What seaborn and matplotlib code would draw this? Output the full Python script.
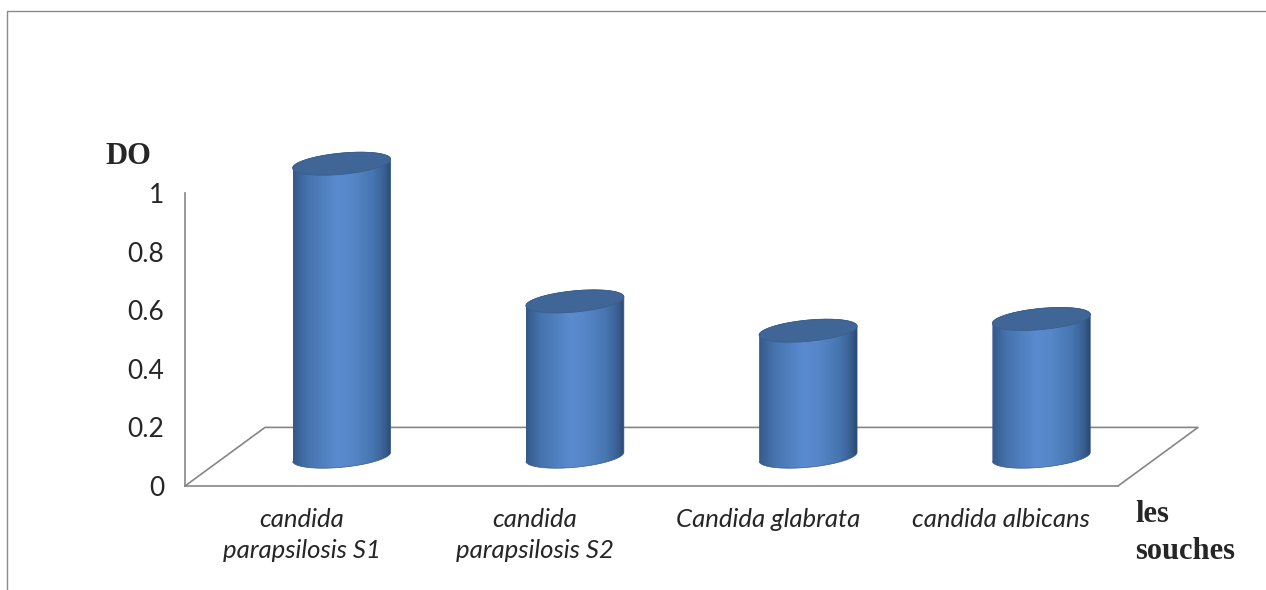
import numpy as np
import pandas as pd
import matplotlib
matplotlib.use("Agg")
import matplotlib.pyplot as plt
import seaborn as sns
from matplotlib.path import Path
from matplotlib.patches import PathPatch
from matplotlib.colors import LinearSegmentedColormap
from matplotlib.lines import Line2D

# === DATA ===
souches = ["candida\nparapsilosis S1", "candida\nparapsilosis S2",
           "Candida glabrata", "candida albicans"]
do_values = [1.0, 0.53, 0.43, 0.47]
y_ticks = [0, 0.2, 0.4, 0.6, 0.8, 1]
y_tick_labels = ["0", "0.2", "0.4", "0.6", "0.8", "1"]

df = pd.DataFrame({"souche": souches, "DO": do_values})

# === STYLE ===
sns.set_style("white")
plt.rcParams["font.family"] = ["Lato", "DejaVu Sans"]
grey = "#868686"

W, H = 1266, 590
fig = plt.figure(figsize=(W / 100, H / 100), dpi=100)

# front plane of the pseudo-3D box (pixel layout from the reference)
left, right, y_zero, y_one = 185, 1118, 486, 193
px_unit = y_zero - y_one
ax = fig.add_axes([left / W, (H - y_zero) / H, (right - left) / W, px_unit / H])
n = len(souches)
ax.set_xlim(-0.5, n - 0.5)
ax.set_ylim(0, 1)

for s in ["top", "right"]:
    ax.spines[s].set_visible(False)
for s in ["left", "bottom"]:
    ax.spines[s].set_color(grey)
    ax.spines[s].set_linewidth(1.2)

ax.set_yticks(y_ticks)
ax.set_yticklabels(y_tick_labels, fontsize=19)
ax.tick_params(axis="y", direction="out", length=5, width=1.2, color=grey, pad=10)
ax.set_xticks(range(n))
ax.set_xticklabels(souches, fontsize=18.5, fontstyle="italic", linespacing=1.4)
ax.tick_params(axis="x", which="major", length=0, pad=16)
ax.set_xticks(np.arange(-0.5, n), minor=True)
ax.tick_params(axis="x", which="minor", direction="out", length=6, width=1.2, color=grey)

# floor of the 3D box: depth offset in data units
depth_x = 80 / ((right - left) / n)
depth_y = 0.2
floor_x = [-0.5, -0.5 + depth_x, n - 0.5 + depth_x, n - 0.5]
floor_y = [0, depth_y, depth_y, 0]
ax.plot(floor_x, floor_y, color=grey, lw=1.2, clip_on=False, zorder=1)

# === BARS (drawn at mid depth on an overlaid axes) ===
dx_px, dy_px = 40, 29.3
lo, hi = -0.15, 1.25
ax2 = fig.add_axes([(left + dx_px) / W,
                    (H - (y_zero - dy_px) - (-lo) * px_unit) / H,
                    (right - left) / W,
                    (hi - lo) * px_unit / H])
ax2.patch.set_alpha(0)

sns.barplot(data=df, x="souche", y="DO", ax=ax2, width=0.42, color="#4f81bd")

cyl_cmap = LinearSegmentedColormap.from_list(
    "cyl", [(0.0, "#34598a"), (0.15, "#4673ae"), (0.45, "#5a8bd0"),
            (0.6, "#5787c9"), (0.82, "#4675b0"), (0.93, "#3a6194"), (1.0, "#2b4a72")])
grad = np.linspace(0, 1, 256)[None, :]

b = 10.6 / px_unit                       # half height of ellipses
shear = (9 / px_unit) / (99 / ((right - left) / n))  # tilt of ellipses
t_low = np.linspace(np.pi, 2 * np.pi, 60)
t_up = np.linspace(0, np.pi, 60)
t_all = np.linspace(0, 2 * np.pi, 120)

for p in list(ax2.patches):
    x0, w, v = p.get_x(), p.get_width(), p.get_height()
    p.set_visible(False)
    a = w / 2
    cx = x0 + a
    bx = cx + a * np.cos(t_low)
    by = b * np.sin(t_low) + shear * a * np.cos(t_low)
    tx = cx + a * np.cos(t_up)
    ty = v + b * np.sin(t_up) + shear * a * np.cos(t_up)
    body = PathPatch(Path(np.column_stack([np.r_[bx, tx], np.r_[by, ty]])),
                     facecolor="none", edgecolor="#36598a", lw=0.5, zorder=3)
    ax2.add_patch(body)
    im = ax2.imshow(grad, extent=(x0, x0 + w, lo, v + 0.1), aspect="auto",
                    cmap=cyl_cmap, zorder=2, interpolation="bilinear")
    im.set_clip_path(body)
    ex = cx + a * np.cos(t_all)
    ey = v + b * np.sin(t_all) + shear * a * np.cos(t_all)
    ax2.fill(ex, ey, facecolor="#3f6696", edgecolor="#3a5f8e", lw=0.6, zorder=4)

ax2.set_xlim(-0.5, n - 0.5)
ax2.set_ylim(lo, hi)
ax2.axis("off")

# === TEXT ===
fig.text(105 / W, (H - 156) / H, "DO", family="Liberation Serif",
         fontweight="bold", fontsize=22, va="center", ha="left")
fig.text(1135 / W, (H - 500) / H, "les\nsouches", family="Liberation Serif",
         fontweight="bold", fontsize=22, va="top", ha="left", linespacing=1.38)

# outer chart border
fig.add_artist(Line2D([7 / W, 1], [1 - 11 / H, 1 - 11 / H], color="#8a8a8a", lw=1))
fig.add_artist(Line2D([7 / W, 7 / W], [1 - 11 / H, 0], color="#8a8a8a", lw=1))

fig.savefig("out.png", dpi=100)
